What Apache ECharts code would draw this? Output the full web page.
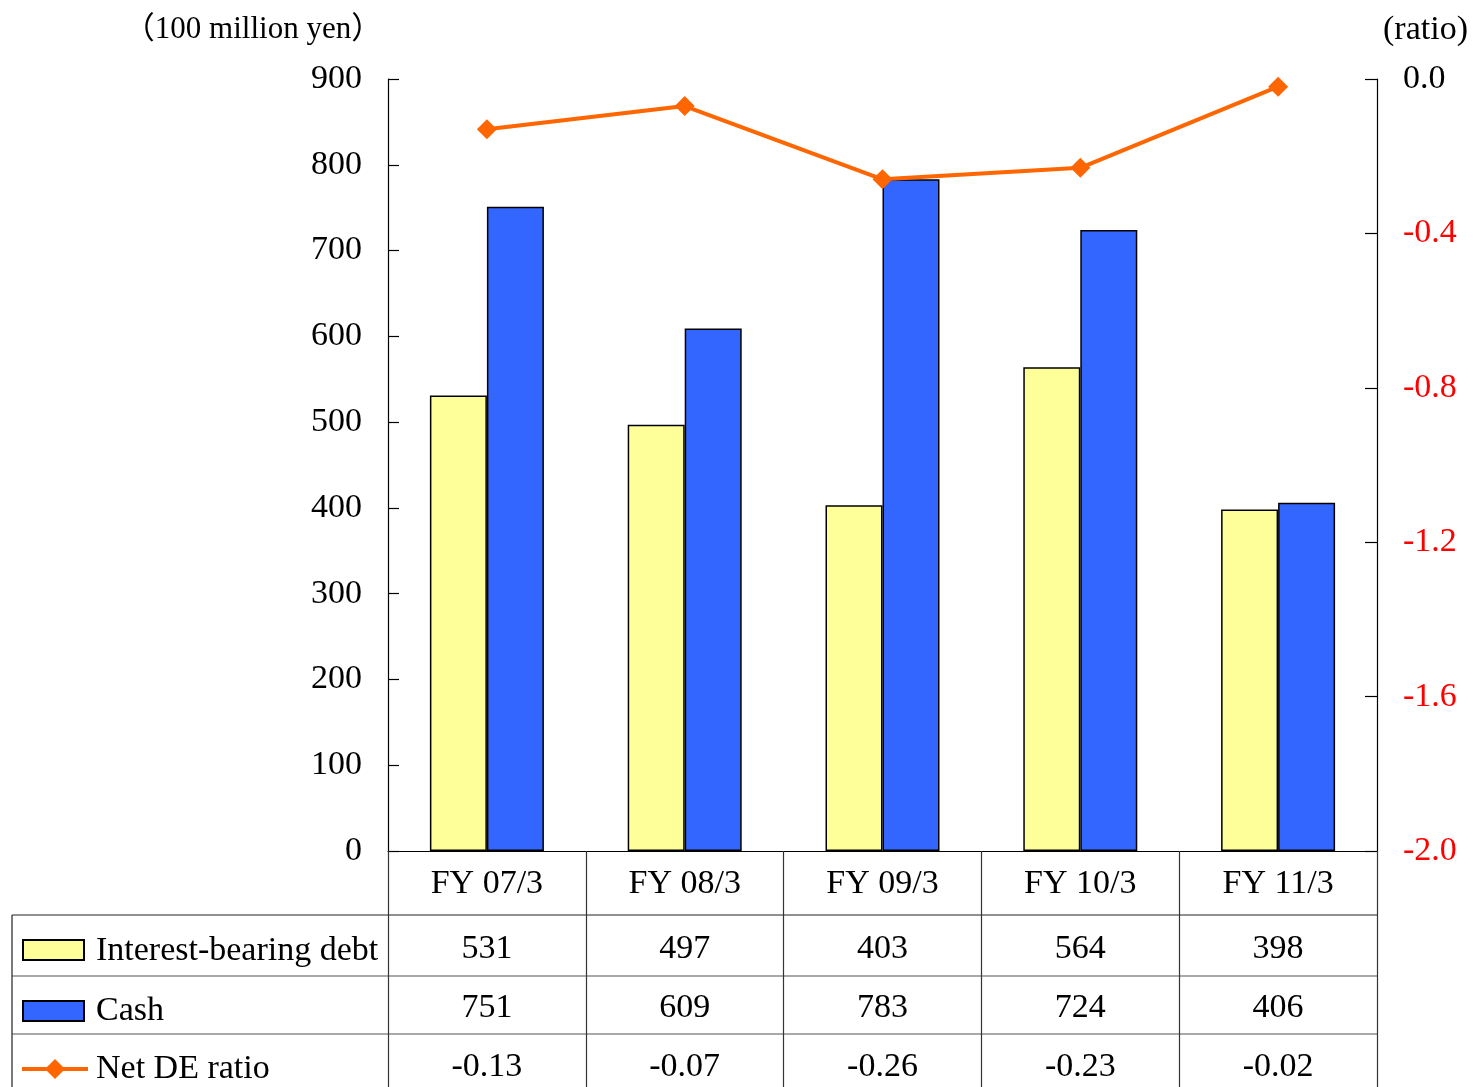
<!DOCTYPE html>
<html>
<head>
<meta charset="utf-8">
<script src="https://cdn.jsdelivr.net/npm/echarts@6/dist/echarts.min.js"></script>
<style>
  html, body { margin: 0; padding: 0; background: #fff; }
  #chart { width: 1473px; height: 1087px; }
</style>
</head>
<body>
<div id="chart"></div>
<script>
// Fiscal years and the three series
const categories = ['FY 07/3', 'FY 08/3', 'FY 09/3', 'FY 10/3', 'FY 11/3'];
const debt = [531, 497, 403, 564, 398];
const cash = [751, 609, 783, 724, 406];
const netDE = [-0.13, -0.07, -0.26, -0.23, -0.02];
const seriesNames = ['Interest-bearing debt', 'Cash', 'Net DE ratio'];

// Axis scales
const leftAxis = { min: 0, max: 900, interval: 100 };
const rightAxis = { min: -2, max: 0, interval: 0.4 };
const leftTitle = '（100 million yen）';
const rightTitle = '(ratio)';

const FONT = '"Liberation Serif", "Times New Roman", "Noto Sans CJK JP", serif';
const FS = 34;
const COLORS = { debt: '#FFFF99', cash: '#3366FF', line: '#FF6600' };

const W = 1473, H = 1087;
const grid = { left: 388, right: 96, top: 79, bottom: 236 };
const plotRight = W - grid.right;

// data table layout below the plot
const tableLeft = 12;
const rowLines = [915, 976, 1034];
const rowCenters = [949, 1008, 1067];

const chart = echarts.init(document.getElementById('chart'), null, { renderer: 'canvas', width: W, height: H });

const option = {
  animation: false,
  backgroundColor: '#fff',
  textStyle: { fontFamily: FONT },
  grid: { left: grid.left, right: grid.right, top: grid.top, bottom: grid.bottom, containLabel: false },
  xAxis: {
    type: 'category',
    data: categories,
    boundaryGap: true,
    axisLine: { show: true, lineStyle: { color: '#000', width: 1.2 } },
    // ticks at the category boundaries run down through the table as column rules
    axisTick: { show: true, alignWithLabel: false, inside: false, length: grid.bottom, lineStyle: { color: '#333', width: 1.2 } },
    axisLabel: { fontFamily: FONT, fontSize: FS, color: '#000', margin: 33, verticalAlign: 'middle' },
    splitLine: { show: false }
  },
  yAxis: [
    {
      type: 'value',
      min: leftAxis.min, max: leftAxis.max, interval: leftAxis.interval,
      axisLine: { show: true, lineStyle: { color: '#000', width: 1.2 } },
      axisTick: { show: true, inside: true, length: 11, lineStyle: { color: '#000', width: 1.2 } },
      axisLabel: { fontFamily: FONT, fontSize: FS, color: '#000', margin: 26, padding: [4, 0, 0, 0] },
      splitLine: { show: false }
    },
    {
      type: 'value',
      position: 'right',
      min: rightAxis.min, max: rightAxis.max, interval: rightAxis.interval,
      axisLine: { show: true, lineStyle: { color: '#000', width: 1.2 } },
      axisTick: { show: true, inside: true, length: 12, lineStyle: { color: '#000', width: 1.2 } },
      axisLabel: {
        fontFamily: FONT, fontSize: FS, margin: 26, padding: [4, 0, 0, 0],
        formatter: v => (Math.abs(v) < 1e-9 ? '0.0' : v.toFixed(1)),
        color: v => (Number(v) < -1e-9 ? '#FF0000' : '#000')
      },
      splitLine: { show: false }
    }
  ],
  series: [
    {
      name: seriesNames[0], type: 'bar', data: debt, yAxisIndex: 0,
      barWidth: 57, barGap: '0%',
      itemStyle: { color: COLORS.debt, borderColor: '#000', borderWidth: 1.5 }
    },
    {
      name: seriesNames[1], type: 'bar', data: cash, yAxisIndex: 0,
      barWidth: 57, barGap: '0%',
      itemStyle: { color: COLORS.cash, borderColor: '#000', borderWidth: 1.5 }
    },
    {
      name: seriesNames[2], type: 'line', data: netDE, yAxisIndex: 1,
      symbol: 'diamond', symbolSize: 20, z: 5,
      lineStyle: { color: COLORS.line, width: 4 },
      itemStyle: { color: COLORS.line }
    }
  ]
};

chart.setOption(option);

// Axis titles, data table rules, legend keys and table values
function buildOverlay() {
  const cx = categories.map((c, i) => chart.convertToPixel({ xAxisIndex: 0 }, i));
  const els = [];
  const txt = (x, y, s, align, size, color) => ({
    type: 'text', x, y, silent: true,
    style: { text: s, fontFamily: FONT, fontSize: size || FS, fill: color || '#000', align: align || 'center', verticalAlign: 'middle' }
  });

  els.push(txt(253, 30, leftTitle, 'center', 31));
  els.push(txt(1383, 30, rightTitle, 'left', FS));

  // horizontal rules of the table
  rowLines.forEach((y, i) => {
    els.push({ type: 'line', silent: true, shape: { x1: tableLeft, y1: y, x2: plotRight, y2: y },
      style: { stroke: i === 0 ? '#222' : '#555', lineWidth: 1.2 } });
  });
  // left border of the table
  els.push({ type: 'line', silent: true, shape: { x1: tableLeft, y1: rowLines[0], x2: tableLeft, y2: H },
    style: { stroke: '#222', lineWidth: 1.2 } });

  // legend keys
  els.push({ type: 'rect', silent: true, shape: { x: 23, y: rowCenters[0] - 9, width: 61, height: 20 },
    style: { fill: COLORS.debt, stroke: '#000', lineWidth: 2 } });
  els.push({ type: 'rect', silent: true, shape: { x: 23, y: rowCenters[1] - 7, width: 61, height: 20 },
    style: { fill: COLORS.cash, stroke: '#000', lineWidth: 2 } });
  const ly = rowCenters[2] + 2;
  els.push({ type: 'line', silent: true, shape: { x1: 22, y1: ly, x2: 88, y2: ly },
    style: { stroke: COLORS.line, lineWidth: 4 } });
  els.push({ type: 'polygon', silent: true,
    shape: { points: [[55, ly - 10], [65, ly], [55, ly + 10], [45, ly]] },
    style: { fill: COLORS.line } });

  els.push(txt(96, rowCenters[0] + 2, seriesNames[0], 'left'));
  els.push(txt(96, rowCenters[1] + 3, seriesNames[1], 'left'));
  els.push(txt(96, rowCenters[2] + 2, seriesNames[2], 'left'));

  // table values
  const rows = [debt.map(String), cash.map(String), netDE.map(v => v.toFixed(2))];
  rows.forEach((vals, r) => {
    vals.forEach((s, i) => els.push(txt(cx[i], rowCenters[r], s, 'center')));
  });

  chart.setOption({ graphic: { elements: els } });
}
buildOverlay();
</script>
</body>
</html>
